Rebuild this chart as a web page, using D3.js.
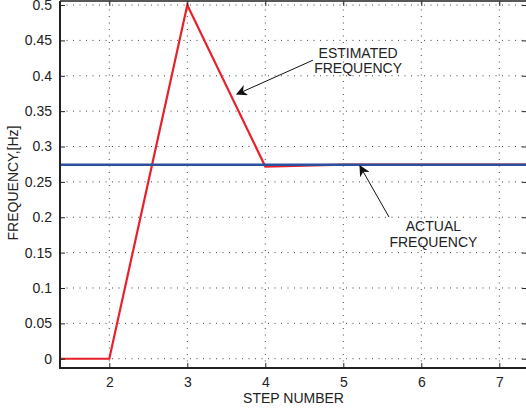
<!DOCTYPE html>
<html lang="en">
	<head>
		<meta charset="utf-8">
		<title>Estimated vs actual frequency</title>
		<script type="text/javascript" src="https://cdn.jsdelivr.net/npm/d3@7"></script>
		<style type="text/css">
			body { margin: 0; background: #fff; }
			text {
				font-family: "Liberation Sans", Arial, sans-serif;
				font-size: 14px;
				fill: #222;
			}
		</style>
	</head>
	<body>
		<script type="text/javascript">
			var w = 526;
			var h = 414;

			// data
			var steps = [1, 2, 3, 4, 5, 6, 7, 8];
			var estimated = [0, 0, 0.5, 0.2717, 0.2743, 0.2743, 0.2743, 0.2743];
			var actual = [0.2743, 0.2743, 0.2743, 0.2743, 0.2743, 0.2743, 0.2743, 0.2743];
			var xTicks = [2, 3, 4, 5, 6, 7];
			var yTicks = [0, 0.05, 0.1, 0.15, 0.2, 0.25, 0.3, 0.35, 0.4, 0.45, 0.5];

			var margin = { left: 60, right: -1, top: 1, bottom: 46 };

			var xScale = d3.scaleLinear()
				.domain([1.368, 7.355])
				.range([margin.left, w - margin.right]);

			var yScale = d3.scaleLinear()
				.domain([-0.0131, 0.5057])
				.range([h - margin.bottom, margin.top]);

			var svg = d3.select("body")
				.append("svg")
				.attr("width", w)
				.attr("height", h);

			var x0 = xScale.range()[0], x1 = xScale.range()[1];
			var y0 = yScale.range()[0], y1 = yScale.range()[1];

			var defs = svg.append("defs");
			defs.append("clipPath").attr("id", "clip")
				.append("rect")
				.attr("x", x0).attr("y", y1)
				.attr("width", x1 - x0).attr("height", y0 - y1);
			defs.append("marker")
				.attr("id", "arrow")
				.attr("viewBox", "0 0 10 10")
				.attr("refX", 9).attr("refY", 5)
				.attr("markerWidth", 11).attr("markerHeight", 11)
				.attr("markerUnits", "userSpaceOnUse")
				.attr("orient", "auto")
				.append("path")
				.attr("d", "M0,0 L10,5 L0,10 L3,5 z")
				.style("fill", "#111");

			// grid
			var grid = svg.append("g").attr("class", "grid");
			grid.selectAll("line.gx")
				.data(xTicks)
				.enter()
				.append("line")
				.attr("x1", function(d){ return xScale(d) })
				.attr("x2", function(d){ return xScale(d) })
				.attr("y1", y0).attr("y2", y1)
				.style("stroke", "#444")
				.style("stroke-width", 1)
				.style("stroke-dasharray", "1,5.5");
			grid.selectAll("line.gy")
				.data(yTicks)
				.enter()
				.append("line")
				.attr("y1", function(d){ return yScale(d) })
				.attr("y2", function(d){ return yScale(d) })
				.attr("x1", x0).attr("x2", x1)
				.style("stroke", "#444")
				.style("stroke-width", 1)
				.style("stroke-dasharray", "1,5.5");

			// lines
			var line = d3.line()
				.x(function(d){ return xScale(d[0]) })
				.y(function(d){ return yScale(d[1]) });

			var plot = svg.append("g").attr("clip-path", "url(#clip)");

			plot.append("path")
				.datum(d3.zip(steps, estimated))
				.attr("d", line)
				.style("fill", "none")
				.style("stroke", "#e8202a")
				.style("stroke-width", 2.2);

			plot.append("path")
				.datum(d3.zip(steps, actual))
				.attr("d", line)
				.style("fill", "none")
				.style("stroke", "#2c4f9e")
				.style("stroke-width", 2.4);

			// axes (ticks inward)
			svg.append("g")
				.attr("transform", "translate(0," + y0 + ")")
				.call(d3.axisBottom(xScale).tickValues(xTicks).tickSize(-5).tickPadding(9).tickSizeOuter(0)
					.tickFormat(d3.format("d")))
				.call(function(g){
					g.select(".domain").remove();
					g.selectAll("text").style("font-size", "14px").style("fill", "#222").style("font-family", null);
					g.selectAll("line").style("stroke", "#222");
				});
			svg.append("g")
				.attr("transform", "translate(0," + y1 + ")")
				.call(d3.axisTop(xScale).tickValues(xTicks).tickSize(-5).tickFormat("").tickSizeOuter(0))
				.call(function(g){
					g.select(".domain").remove();
					g.selectAll("line").style("stroke", "#222");
				});
			svg.append("g")
				.attr("transform", "translate(" + x0 + ",0)")
				.call(d3.axisLeft(yScale).tickValues(yTicks).tickSize(-5).tickPadding(8).tickSizeOuter(0)
					.tickFormat(function(d){ return d3.format("~g")(d) }))
				.call(function(g){
					g.select(".domain").remove();
					g.selectAll("text").style("font-size", "14px").style("fill", "#222").style("font-family", null);
					g.selectAll("line").style("stroke", "#222");
				});
			svg.append("g")
				.attr("transform", "translate(" + x1 + ",0)")
				.call(d3.axisRight(yScale).tickValues(yTicks).tickSize(-5).tickFormat("").tickSizeOuter(0))
				.call(function(g){
					g.select(".domain").remove();
					g.selectAll("line").style("stroke", "#222");
				});

			// frame
			svg.append("line").attr("x1", x0).attr("x2", x1).attr("y1", y0).attr("y2", y0)
				.style("stroke", "#222").style("stroke-width", 2);
			svg.append("line").attr("x1", x0).attr("x2", x0).attr("y1", y0 + 1).attr("y2", y1)
				.style("stroke", "#222").style("stroke-width", 2);
			svg.append("line").attr("x1", x0).attr("x2", x1).attr("y1", y1).attr("y2", y1)
				.style("stroke", "#222").style("stroke-width", 1.5);

			// axis titles
			svg.append("text")
				.text("STEP NUMBER")
				.attr("x", (x0 + x1) / 2)
				.attr("y", 403)
				.attr("text-anchor", "middle");
			svg.append("text")
				.text("FREQUENCY,[Hz]")
				.attr("transform", "translate(18," + 183 + ") rotate(-90)")
				.attr("text-anchor", "middle");

			// annotations
			var notes = [
				{ lines: ["ESTIMATED", "FREQUENCY"], tx: 5.19, ty: 0.4255, from: [4.61, 0.422], to: [3.637, 0.374] },
				{ lines: ["ACTUAL", "FREQUENCY"], tx: 6.155, ty: 0.18, from: [5.586, 0.2003], to: [5.214, 0.2724] }
			];
			notes.forEach(function(n){
				n.lines.forEach(function(s, i){
					svg.append("text")
						.attr("x", xScale(n.tx))
						.attr("y", yScale(n.ty) + i * 15.5)
						.attr("text-anchor", "middle")
						.text(s);
				});
				svg.append("line")
					.attr("x1", xScale(n.from[0])).attr("y1", yScale(n.from[1]))
					.attr("x2", xScale(n.to[0])).attr("y2", yScale(n.to[1]))
					.style("stroke", "#111")
					.style("stroke-width", 1)
					.attr("marker-end", "url(#arrow)");
			});
		</script>
	</body>
</html>
